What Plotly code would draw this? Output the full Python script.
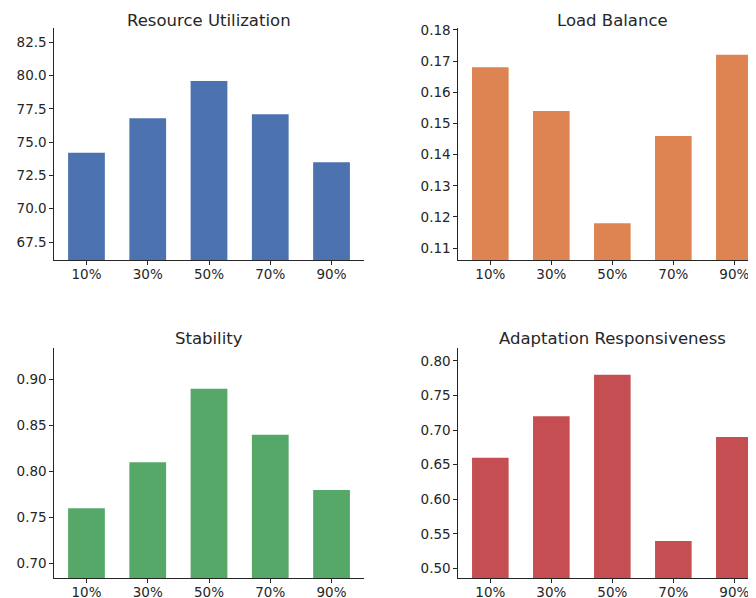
import plotly.graph_objects as go

categories = ["10%", "30%", "50%", "70%", "90%"]

titles = ["Resource Utilization", "Load Balance", "Stability", "Adaptation Responsiveness"]
resource_utilization = [74.2, 76.8, 79.6, 77.1, 73.5]
load_balance = [0.168, 0.154, 0.118, 0.146, 0.172]
stability = [0.76, 0.81, 0.89, 0.84, 0.78]
adaptation = [0.66, 0.72, 0.78, 0.54, 0.69]
series = [resource_utilization, load_balance, stability, adaptation]
colors = ["#4c72b0", "#dd8452", "#55a868", "#c44e52"]

ytick_vals = [
    [67.5, 70.0, 72.5, 75.0, 77.5, 80.0, 82.5],
    [0.11, 0.12, 0.13, 0.14, 0.15, 0.16, 0.17, 0.18],
    [0.70, 0.75, 0.80, 0.85, 0.90],
    [0.50, 0.55, 0.60, 0.65, 0.70, 0.75, 0.80],
]
ytick_fmt = [".1f", ".2f", ".2f", ".2f"]

# page offset from default body margin
OX, OY = 8, 8
W, H = 756 - OX, 598 - OY


def xd(px):
    return (px - OX) / W


def yd(py):
    return (H - (py - OY)) / H


x_domains = [[xd(54), xd(364)], [xd(458), 1.0], [xd(54), xd(364)], [xd(458), 1.0]]
y_domains = [[yd(260), yd(28)], [yd(260), yd(28)],
             [yd(578.3), yd(347.7)], [yd(578.3), yd(347.7)]]
x_ranges = [[-0.53, 4.53], [-0.53, 4.355], [-0.53, 4.53], [-0.53, 4.355]]
title_pos = [(209, 20), (612, 20), (209, 338), (612, 338)]

font_family = "DejaVu Sans"
text_color = "#262626"

fig = go.Figure()
layout = dict(
    width=W, height=H,
    margin=dict(l=0, r=0, t=0, b=0, autoexpand=False),
    paper_bgcolor="white", plot_bgcolor="white",
    showlegend=False,
    font=dict(family=font_family, color=text_color, size=13.5),
    annotations=[],
)

for i, (vals, col) in enumerate(zip(series, colors)):
    n = "" if i == 0 else str(i + 1)
    fig.add_trace(go.Bar(
        x=categories, y=vals, marker=dict(color=col, line=dict(width=0)),
        width=0.6, xaxis="x" + n, yaxis="y" + n, hoverinfo="x+y",
    ))
    ymin, ymax = min(vals) * 0.9, max(vals) * 1.05
    layout["xaxis" + n] = dict(
        domain=x_domains[i], anchor="y" + n, range=x_ranges[i],
        type="category", showgrid=False, zeroline=False, automargin=False,
        showline=True, linecolor=text_color, linewidth=1.3,
        ticks="outside", ticklen=3.5, tickwidth=1, tickcolor=text_color,
        ticklabelstandoff=-2,
        tickfont=dict(size=13.5, color=text_color),
    )
    layout["yaxis" + n] = dict(
        domain=y_domains[i], anchor="x" + n, range=[ymin, ymax],
        showgrid=False, zeroline=False, automargin=False,
        showline=True, linecolor=text_color, linewidth=1.3,
        ticks="outside", ticklen=3.5, tickwidth=1, tickcolor=text_color,
        tickvals=ytick_vals[i], tickformat=ytick_fmt[i],
        tickfont=dict(size=13.5, color=text_color),
    )
    tx, ty = title_pos[i]
    layout["annotations"].append(dict(
        text=titles[i], x=xd(tx), y=yd(ty), xref="paper", yref="paper",
        showarrow=False, xanchor="center", yanchor="middle",
        font=dict(size=16.5, color=text_color, family=font_family),
    ))

fig.update_layout(**layout)
fig.write_html("out.html")
